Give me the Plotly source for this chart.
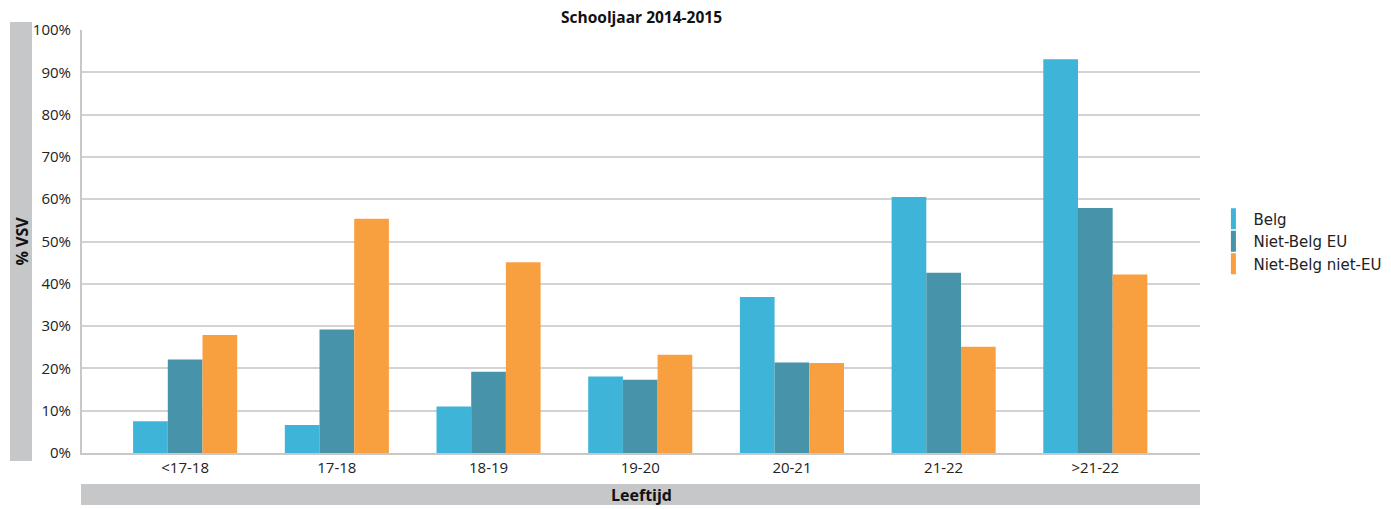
import plotly.graph_objects as go

categories = ["<17-18", "17-18", "18-19", "19-20", "20-21", "21-22", ">21-22"]
belg = [7.5, 6.6, 11.0, 18.1, 36.9, 60.5, 93.1]
niet_belg_eu = [22.1, 29.2, 19.2, 17.3, 21.4, 42.6, 57.9]
niet_belg_niet_eu = [27.9, 55.4, 45.1, 23.2, 21.3, 25.1, 42.2]
series_names = ["Belg", "Niet-Belg EU", "Niet-Belg niet-EU"]
colors = ["#3db4d8", "#4793aa", "#f89f40"]
tick_vals = [0, 10, 20, 30, 40, 50, 60, 70, 80, 90, 100]
tick_text = [f"{v}%" for v in tick_vals]

FONT = "Open Sans, sans-serif"
LEG_FONT = "DejaVu Sans, sans-serif"

# page body has an 8px margin: figure is sized/offset to compensate
W, H = 1383, 501
L, R, T, B = 74, 191, 22, 56
PW, PH = W - L - R, H - T - B

fig = go.Figure()
for name, vals, col in zip(series_names, [belg, niet_belg_eu, niet_belg_niet_eu], colors):
    fig.add_trace(go.Bar(x=categories, y=vals, name=name, showlegend=False,
                         marker=dict(color=col, line=dict(width=0))))
# legend entries with narrow vertical swatches
for name, col in zip(series_names, colors):
    fig.add_trace(go.Scatter(x=[None], y=[None], mode="markers", name=name,
                             marker=dict(symbol="line-ns", size=15,
                                         line=dict(color=col, width=6))))

fig.update_layout(
    width=W, height=H,
    barmode="group", bargap=0.314, bargroupgap=0,
    plot_bgcolor="white", paper_bgcolor="white",
    margin=dict(l=L, r=R, t=T, b=B, autoexpand=False),
    font=dict(family=FONT, size=15, color="#222"),
    legend=dict(x=1.012, y=0.5, xanchor="left", yanchor="middle",
                font=dict(family=LEG_FONT, size=15, color="#222"), itemwidth=30,
                traceorder="normal", bgcolor="rgba(0,0,0,0)"),
    xaxis=dict(range=[-0.68, 6.69], showline=True, linecolor="#c8c8c8", linewidth=2,
               ticks="", tickfont=dict(size=15)),
    yaxis=dict(range=[0, 100], tickvals=tick_vals, ticktext=tick_text,
               showgrid=True, gridcolor="#d3d3d3", gridwidth=1.5,
               showline=True, linecolor="#c8c8c8", linewidth=2,
               zeroline=False, ticks="", ticklabelstandoff=6, tickfont=dict(size=15)),
    shapes=[
        dict(type="rect", xref="paper", yref="paper",
             x0=-72 / PW, x1=-50 / PW, y0=-8 / PH, y1=431 / PH,
             fillcolor="#c6c7c9", line=dict(width=0), layer="below"),
        dict(type="rect", xref="paper", yref="paper",
             x0=-1 / PW, x1=1.0, y0=-52 / PH, y1=-31 / PH,
             fillcolor="#c6c7c9", line=dict(width=0), layer="below"),
    ],
    annotations=[
        dict(text="<b>Schooljaar 2014-2015</b>", xref="paper", yref="paper",
             x=0.5, y=1 + 13.5 / PH, showarrow=False,
             font=dict(size=15.5, color="#111"), xanchor="center", yanchor="middle"),
        dict(text="<b>% VSV</b>", xref="paper", yref="paper",
             x=-61 / PW, y=0.5, textangle=-90, showarrow=False,
             font=dict(size=16, color="#111"), xanchor="center", yanchor="middle"),
        dict(text="<b>Leeftijd</b>", xref="paper", yref="paper",
             x=0.5, y=-41.5 / PH, showarrow=False,
             font=dict(size=16, color="#111"), xanchor="center", yanchor="middle"),
    ],
)

fig.write_html("out.html")
